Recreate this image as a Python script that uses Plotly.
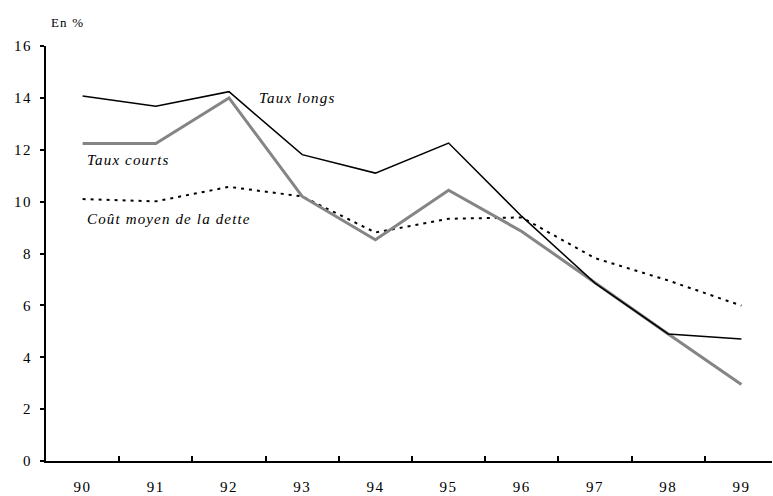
import plotly.graph_objects as go

annees = ["90", "91", "92", "93", "94", "95", "96", "97", "98", "99"]
taux_longs = [14.07, 13.68, 14.24, 11.81, 11.10, 12.26, 9.43, 6.86, 4.90, 4.70]
taux_courts = [12.24, 12.24, 14.00, 10.20, 8.53, 10.44, 8.85, 6.86, 4.90, 2.95]
cout_moyen = [10.10, 10.01, 10.57, 10.20, 8.81, 9.34, 9.39, 7.82, 6.96, 5.99]
y_ticks = [0, 2, 4, 6, 8, 10, 12, 14, 16]

fig = go.Figure()
fig.add_trace(go.Scatter(x=annees, y=cout_moyen, mode="lines",
                         line=dict(color="black", width=2, dash="3px,5px"),
                         name="Coût moyen de la dette"))
fig.add_trace(go.Scatter(x=annees, y=taux_courts, mode="lines",
                         line=dict(color="#858585", width=3),
                         name="Taux courts"))
fig.add_trace(go.Scatter(x=annees, y=taux_longs, mode="lines",
                         line=dict(color="black", width=1.5),
                         name="Taux longs"))

font_serif = "'Liberation Serif', 'Times New Roman', serif"

fig.update_layout(
    width=773, height=496,
    margin=dict(l=46, r=1, t=46, b=35),
    paper_bgcolor="white", plot_bgcolor="white",
    showlegend=False,
    font=dict(family=font_serif, size=15, color="black"),
    xaxis=dict(type="category", range=[-0.5, 9.418],
               showline=True, linecolor="black", linewidth=2,
               ticks="inside", ticklen=5, tickwidth=1.5, tickcolor="black",
               tickson="boundaries", showgrid=False, zeroline=False,
               ticklabelstandoff=11, tickfont=dict(size=15, family=font_serif)),
    yaxis=dict(range=[0, 16], tickvals=y_ticks,
               showline=True, linecolor="black", linewidth=2,
               ticks="outside", ticklen=4, tickwidth=1.5, tickcolor="black",
               showgrid=False, zeroline=False,
               ticklabelstandoff=5, tickfont=dict(size=15, family=font_serif)),
    annotations=[
        dict(text="En %", xref="paper", yref="paper", x=0.004, y=1.0,
             xanchor="left", yanchor="bottom", yshift=14, showarrow=False,
             align="left", font=dict(size=13, family=font_serif)),
        dict(text="<i>Taux longs</i>", xref="paper", yref="paper",
             x=(257 - 46) / 726, y=(460.7 - 98) / 414.7, xanchor="left",
             yanchor="middle", showarrow=False, align="left",
             font=dict(size=15, family=font_serif)),
        dict(text="<i>Taux courts</i>", xref="paper", yref="paper",
             x=(85 - 46) / 726, y=(460.7 - 160) / 414.7, xanchor="left",
             yanchor="middle", showarrow=False, align="left",
             font=dict(size=15, family=font_serif)),
        dict(text="<i>Coût moyen de la dette</i>", xref="paper", yref="paper",
             x=(85 - 46) / 726, y=(460.7 - 219) / 414.7, xanchor="left",
             yanchor="middle", showarrow=False, align="left",
             font=dict(size=15, family=font_serif)),
    ],
)

post = (
    "document.body.style.margin='0';"
    "document.querySelectorAll('.xtick text, .ytick text')"
    ".forEach(function(t){t.style.letterSpacing='1.5px';});"
    "document.querySelectorAll('.annotation-text')"
    ".forEach(function(t){t.style.letterSpacing='1.15px';});"
)
fig.write_html("out.html", post_script=post, config={"displayModeBar": False})
